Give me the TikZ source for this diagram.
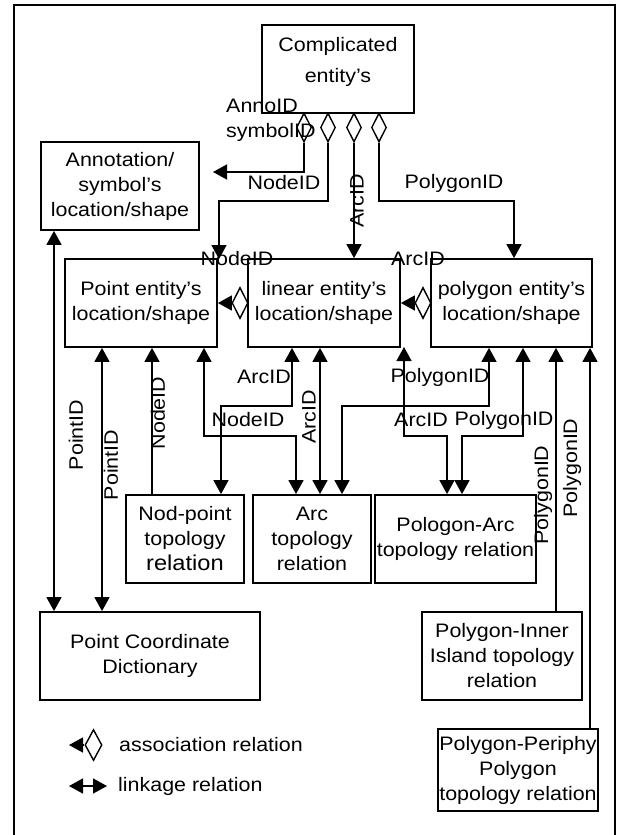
\documentclass[tikz,border=0pt]{standalone}
\usepackage{fontspec}
\setmainfont{Liberation Sans}[FakeStretch=1.1]
\usetikzlibrary{arrows.meta,shapes.geometric}
\tikzset{
  box/.style={draw, line width=1.8pt, inner sep=0pt, align=center, minimum height=88pt},
  conn/.style={line width=1.5pt},
  to/.style={-{Triangle[length=14pt,width=15pt]}},
  back/.style={{Triangle[length=14pt,width=15pt]}-},
  both/.style={{Triangle[length=14pt,width=15pt]}-{Triangle[length=14pt,width=15pt]}},
  dia/.style={draw, shape=diamond, line width=1.4pt, minimum width=16pt, minimum height=31pt, inner sep=0pt, fill=white},
  lbl/.style={inner sep=0pt},
  vlbl/.style={inner sep=0pt, rotate=90},
  frameline/.style={line width=2.6pt}
}
\begin{document}
\begin{tikzpicture}[x=1pt,y=-1pt,font=\fontsize{19.5}{25}\selectfont]
\useasboundingbox (0,0) rectangle (620,835);
\draw[frameline] (14,835) -- (14,5) -- (615,5) -- (615,835);

% boxes
\node[box, minimum width=152pt] (comp) at (338,69) {};
\node[lbl, align=center] (comptext) at (338,61.5) {Complicated\\[6pt]entity’s};
\node[box, minimum width=158pt] (annot) at (120,186) {Annotation/\\symbol’s\\location/shape};
\node[box, minimum width=152pt] (point) at (141,303) {Point entity’s\\location/shape};
\node[box, minimum width=152pt] (linear) at (324,303) {linear entity’s\\location/shape};
\node[box, minimum width=161pt] (polygon) at (511.5,303) {polygon entity’s\\location/shape};
\node[box, minimum width=118pt] (nodpt) at (185,539) {Nod-point\\topology\\{\fontsize{21.5}{25}\selectfont relation}};
\node[box, minimum width=118pt] (arc) at (312,539) {Arc\\topology\\relation};
\node[box, minimum width=161pt] (polarc) at (455.5,539) {Pologon-Arc\\topology relation};
\node[box, minimum width=220pt] (pcd) at (150,656) {Point Coordinate\\Dictionary};
\node[box, minimum width=160pt] (inner) at (502,656) {Polygon-Inner\\Island topology\\relation};
\node[box, minimum width=160pt, minimum height=82pt] (periphy) at (518,770) {Polygon-Periphy\\Polygon\\topology relation};

% diamonds below the complicated entity
\node[dia, minimum width=15pt, minimum height=29pt] (dA) at (304,127.5) {};
\node[dia, minimum width=15pt, minimum height=29pt] (dN) at (328,127.5) {};
\node[dia, minimum width=15pt, minimum height=29pt] (dC) at (354,127.5) {};
\node[dia, minimum width=15pt, minimum height=29pt] (dP) at (379,127.5) {};

\coordinate (annoEnd) at (213,172);
\draw[conn,to] (dA.south) |- (annoEnd);
\coordinate (nodeEnd) at (219,259);
\draw[conn,to] (dN.south) -- (328,201) -| (nodeEnd);
\draw[conn,to] (dC.south) -- (dC.south |- linear.north);
\draw[conn,to] (dP.south) -- (379,201) -| (514,0 |- polygon.north);

% diamonds between the entity boxes
\node[dia] (d1) at (240,303) {};
\draw[conn,to] (d1.west) -- (d1.west -| point.east);
\node[dia] (d2) at (423,303) {};
\draw[conn,to] (d2.west) -- (d2.west -| linear.east);

% lower connectors
\draw[conn,both] (54,0 |- annot.south) -- (54,0 |- pcd.north);
\draw[conn,both] (102,0 |- point.south) -- (102,0 |- pcd.north);
\draw[conn,back] (152,0 |- point.south) -- (152,0 |- nodpt.north);
\draw[conn,both] (204,0 |- point.south) -- (204,436) -| (296,0 |- arc.north);
\draw[conn,both] (292,0 |- linear.south) -- (292,406) -| (221,0 |- nodpt.north);
\draw[conn,both] (320,0 |- linear.south) -- (320,0 |- arc.north);
\coordinate (linCorner) at (404,347);
\draw[conn,both] (linCorner) -- (404,436) -| (447,0 |- polarc.north);
\draw[conn,both] (489,0 |- polygon.south) -- (489,406) -| (342,0 |- arc.north);
\draw[conn,both] (523,0 |- polygon.south) -- (523,436) -| (462,0 |- polarc.north);
\draw[conn,back] (556,0 |- polygon.south) -- (556,0 |- inner.north);
\draw[conn,back] (590,0 |- polygon.south) -- (590,0 |- periphy.north);

% labels
\node[lbl, align=left, anchor=west] (lAnno) at (226,120.5) {AnnoID\\symbolID};
\node[lbl] (lNode1) at (284,183) {NodeID};
\node[vlbl] (lArc1) at (357,201) {ArcID};
\node[lbl] (lPoly1) at (454,183) {PolygonID};
\node[lbl] (lNode2) at (237,259) {NodeID};
\node[lbl] (lArc2) at (418,259) {ArcID};
\node[vlbl] (lPt1) at (76,435) {PointID};
\node[vlbl, fill=white] (lPt2) at (111,465) {PointID};
\node[vlbl] (lNode3) at (158,413) {NodeID};
\node[lbl] (lArc3) at (264,377) {ArcID};
\node[lbl] (lNode4) at (248,420) {NodeID};
\node[vlbl] (lArc4) at (309,417) {ArcID};
\node[lbl] (lPoly2) at (440,377) {PolygonID};
\node[lbl] (lArc5) at (421,420) {ArcID};
\node[lbl] (lPoly3) at (504,420) {PolygonID};
\node[vlbl] (lPoly4) at (543,495) {PolygonID};
\node[vlbl] (lPoly5) at (572,468) {PolygonID};

% legend
\node[dia, minimum width=17pt] (ld) at (93.5,745) {};
\coordinate (lat) at (69,745);
\draw[conn,to] (ld.west) -- (lat);
\node[lbl, anchor=west] (lt1) at (119,745) {association relation};
\coordinate (lla) at (69,786);
\coordinate (llb) at (107,786);
\draw[conn,both] (lla) -- (llb);
\node[lbl, anchor=west] (lt2) at (118,786) {linkage relation};
\end{tikzpicture}
\end{document}
